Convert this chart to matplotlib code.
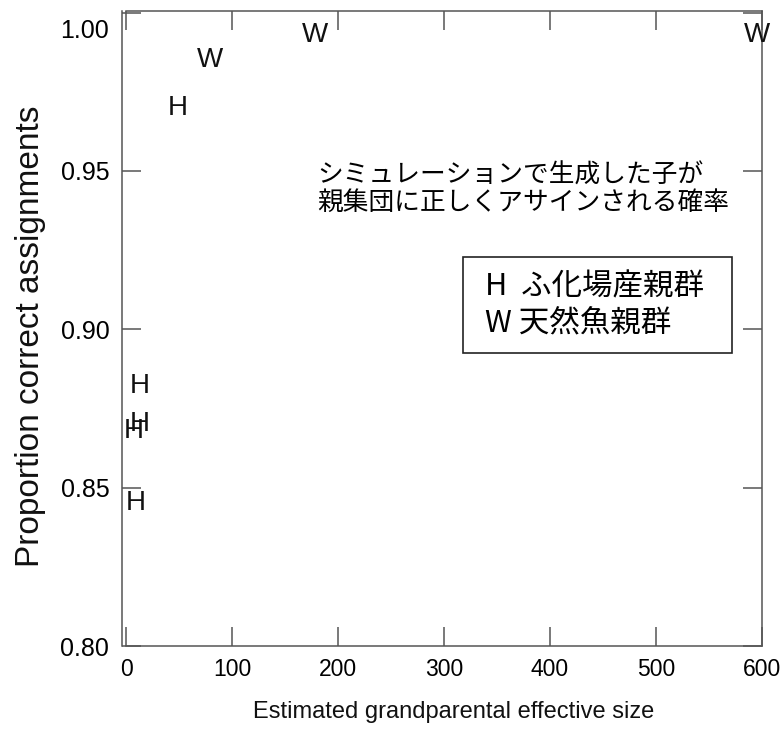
import matplotlib
matplotlib.use("Agg")
import matplotlib.pyplot as plt
from matplotlib.patches import Rectangle
from matplotlib.transforms import ScaledTranslation

plt.rcParams['font.family'] = ['Liberation Sans', 'DejaVu Sans']
jp_font = ['Noto Sans CJK JP', 'DejaVu Sans']

# hatchery broodstock (H) and wild broodstock (W)
h_size = [48.6, 12.7, 13.2, 6.9, 9.4]
h_prop = [0.970, 0.882, 0.870, 0.868, 0.845]
w_size = [79.2, 178.7, 595.0]
w_prop = [0.985, 0.993, 0.993]

x_ticks = [0, 100, 200, 300, 400, 500, 600]
y_ticks = [0.80, 0.85, 0.90, 0.95, 1.00]

W, H = 784, 729
axis_color = '#555555'

fig = plt.figure(figsize=(W / 100, H / 100), dpi=100)
ax = fig.add_axes([126 / W, (H - 646) / H, (762 - 126) / W, (646 - 11) / H])
ax.set_xlim(0, 600)
ax.set_ylim(0.8, 1.0005)

for side in ['left', 'right', 'top', 'bottom']:
    ax.spines[side].set_color(axis_color)
    ax.spines[side].set_linewidth(1.1)
ax.spines['left'].set_position(('outward', 3))

ax.set_xticks(x_ticks)
ax.set_xticklabels([str(v) for v in x_ticks])
ax.set_yticks(y_ticks)
ax.set_yticklabels(['%.2f' % v for v in y_ticks])
ax.tick_params(axis='both', direction='in', length=14, width=1.1,
               color=axis_color, top=True, right=True)
ax.tick_params(axis='x', labelsize=16.5, pad=9)
ax.tick_params(axis='y', labelsize=18, pad=9)

# keep the top label inside the figure
top_label = ax.get_yticklabels()[-1]
top_label.set_transform(top_label.get_transform()
                        + ScaledTranslation(0, -16 / 100, fig.dpi_scale_trans))

for x, y in zip(h_size, h_prop):
    ax.text(x, y, 'H', ha='center', va='center', fontsize=20,
            color='#111111', clip_on=False)
for x, y in zip(w_size, w_prop):
    ax.text(x, y, 'W', ha='center', va='center', fontsize=20,
            color='#111111', clip_on=False)

fig.text(454 / W, 1 - 712 / H, 'Estimated grandparental effective size',
         ha='center', va='center', fontsize=17, color='#111111')
fig.text(31 / W, 1 - 336 / H, 'Proportion correct assignments',
         ha='center', va='center', rotation=90, fontsize=24, color='#111111')

fig.text(317 / W, 1 - 176 / H, 'シミュレーションで生成した子が',
         ha='left', va='center', fontsize=18.5, family=jp_font)
fig.text(317 / W, 1 - 203 / H, '親集団に正しくアサインされる確率',
         ha='left', va='center', fontsize=18.5, family=jp_font)

fig.patches.append(Rectangle((463 / W, 1 - 353 / H), 269 / W, 96 / H,
                             transform=fig.transFigure, fill=False,
                             edgecolor='#222222', linewidth=1.2))
fig.text(485 / W, 1 - 287 / H, 'H  ふ化場産親群',
         ha='left', va='center', fontsize=22, family=jp_font)
fig.text(485 / W, 1 - 323 / H, 'W 天然魚親群',
         ha='left', va='center', fontsize=22, family=jp_font)

fig.savefig('out.png', dpi=100)
